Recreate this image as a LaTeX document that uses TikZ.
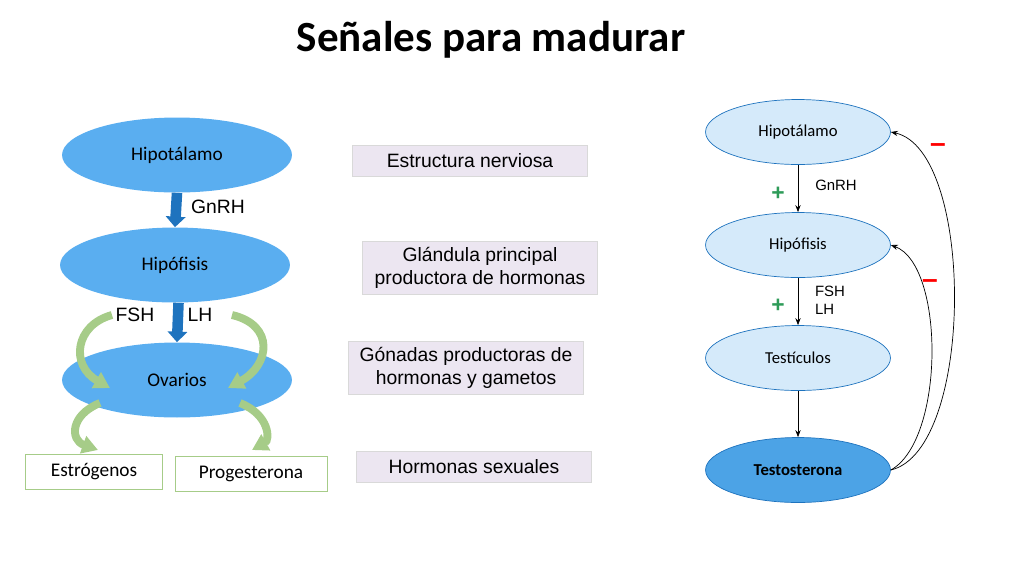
\documentclass[tikz,border=0pt]{standalone}
\usepackage{fontspec}
\setmainfont{Liberation Sans}
\newfontfamily\titlefont{Carlito}
\usetikzlibrary{arrows.meta,shapes.geometric}
\definecolor{lblue}{HTML}{5AAEF0}
\definecolor{dblue}{HTML}{1E73BE}
\definecolor{pblue}{HTML}{D5EAFA}
\definecolor{tblue}{HTML}{4CA3E6}
\definecolor{lgreen}{HTML}{A6CC88}
\definecolor{lilac}{HTML}{ECE6F1}
\definecolor{pgreen}{HTML}{2E9B58}
\begin{document}
\begin{tikzpicture}[x=0.02cm,y=-0.02cm]
      \tikzstyle{lnode} = [ellipse, fill=lblue, minimum width=230*0.569pt, minimum height=75*0.569pt, inner sep=0pt, font=\titlefont\fontsize{11}{12}\selectfont]
      \tikzstyle{rnode} = [ellipse, draw=dblue, fill=pblue, minimum width=185*0.569pt, minimum height=65*0.569pt, inner sep=0pt, font=\titlefont\fontsize{9.5}{10}\selectfont]
      \tikzstyle{info} = [fill=lilac, draw=gray!30, minimum width=235*0.569pt, align=center, font=\fontsize{11}{13}\selectfont]
      \tikzstyle{hbox} = [draw=lgreen, fill=white, minimum height=35*0.569pt, font=\titlefont\fontsize{11}{12}\selectfont]
      \tikzstyle{bigarr} = [dblue, line width=6pt, -{Triangle[width=11pt,length=6pt]}]
      \tikzstyle{garr} = [lgreen, line width=4.5pt, -{Triangle[width=10pt,length=9pt]}]
      \useasboundingbox (0,0) rectangle (1024,576);

      \node[font=\titlefont\bfseries\fontsize{24.5}{28}\selectfont] (title) at (491,40) {Señales para madurar};

      % left chain
      \node[lnode] (h1) at (177,155) {Hipotálamo};
      \node[lnode] (p1) at (175,265) {Hipófisis};
      \node[lnode] (o1) at (177,380) {Ovarios};
      \node[hbox, minimum width=137*0.569pt] (e1) at (94,472) {Estrógenos};
      \node[hbox, minimum width=152*0.569pt] (g1) at (251,474) {Progesterona};

      \draw[bigarr] (h1.south) -- (p1.north);
      \draw[bigarr] ([xshift=2]p1.south) -- (o1.north);
      \node[font=\fontsize{11}{12}\selectfont] (gnrh1) at (218,207) {GnRH};
      \node[font=\fontsize{11}{12}\selectfont] (fsh1) at (135,315) {FSH};
      \node[font=\fontsize{11}{12}\selectfont] (lh1) at (200,315) {LH};

      \coordinate (a1) at (112,315);
      \coordinate (a2) at (110,388);
      \coordinate (b1) at (232,315);
      \coordinate (b2) at (228,388);
      \draw[garr] (a1) .. controls (75,325) and (70,365) .. (a2);
      \draw[garr] (b1) .. controls (275,325) and (270,365) .. (b2);
      \draw[garr] (100,403) .. controls (70,415) and (70,440) .. (98,450);
      \draw[garr] (240,403) .. controls (270,415) and (270,440) .. (252,450);

      % middle boxes
      \node[info, minimum height=31*0.569pt] (n1) at (470,161) {Estructura nerviosa};
      \node[info] (n2) at (480,268) {Glándula principal\\productora de hormonas};
      \node[info] (n3) at (466,368) {Gónadas productoras de\\hormonas y gametos};
      \node[info, minimum height=31*0.569pt] (n4) at (474,467) {Hormonas sexuales};

      % right chain
      \node[rnode] (h2) at (798,132) {Hipotálamo};
      \node[rnode] (p2) at (798,245) {Hipófisis};
      \node[rnode] (t2) at (798,358) {Testículos};
      \node[rnode, fill=tblue, font=\titlefont\bfseries\fontsize{9.5}{10}\selectfont] (s2) at (798,470) {Testosterona};

      \draw[-{Stealth[length=4pt]}] (h2) -- (p2);
      \draw[-{Stealth[length=4pt]}] (p2) -- (t2);
      \draw[-{Stealth[length=4pt]}] (t2) -- (s2);
      \draw[-{Stealth[length=4pt]}] (s2.east) .. controls (975,450) and (975,150) .. (h2.east);
      \draw[-{Stealth[length=4pt]}] (s2.east) .. controls (945,440) and (945,265) .. (p2.east);

      \node[font=\fontsize{8.5}{10}\selectfont] (gnrh2) at (836,185) {GnRH};
      \node[font=\fontsize{8.5}{10}\selectfont, align=left] (fsh2) at (830,300) {FSH\\LH};
      \node[text=pgreen, font=\bfseries\fontsize{13}{14}\selectfont] (plus1) at (778,194) {+};
      \node[text=pgreen, font=\bfseries\fontsize{13}{14}\selectfont] (plus2) at (778,306) {+};
      \node[text=red, font=\bfseries\fontsize{16}{16}\selectfont] (minus1) at (938,148) {--};
      \node[text=red, font=\bfseries\fontsize{16}{16}\selectfont] (minus2) at (930,284) {--};
\end{tikzpicture}
\end{document}
